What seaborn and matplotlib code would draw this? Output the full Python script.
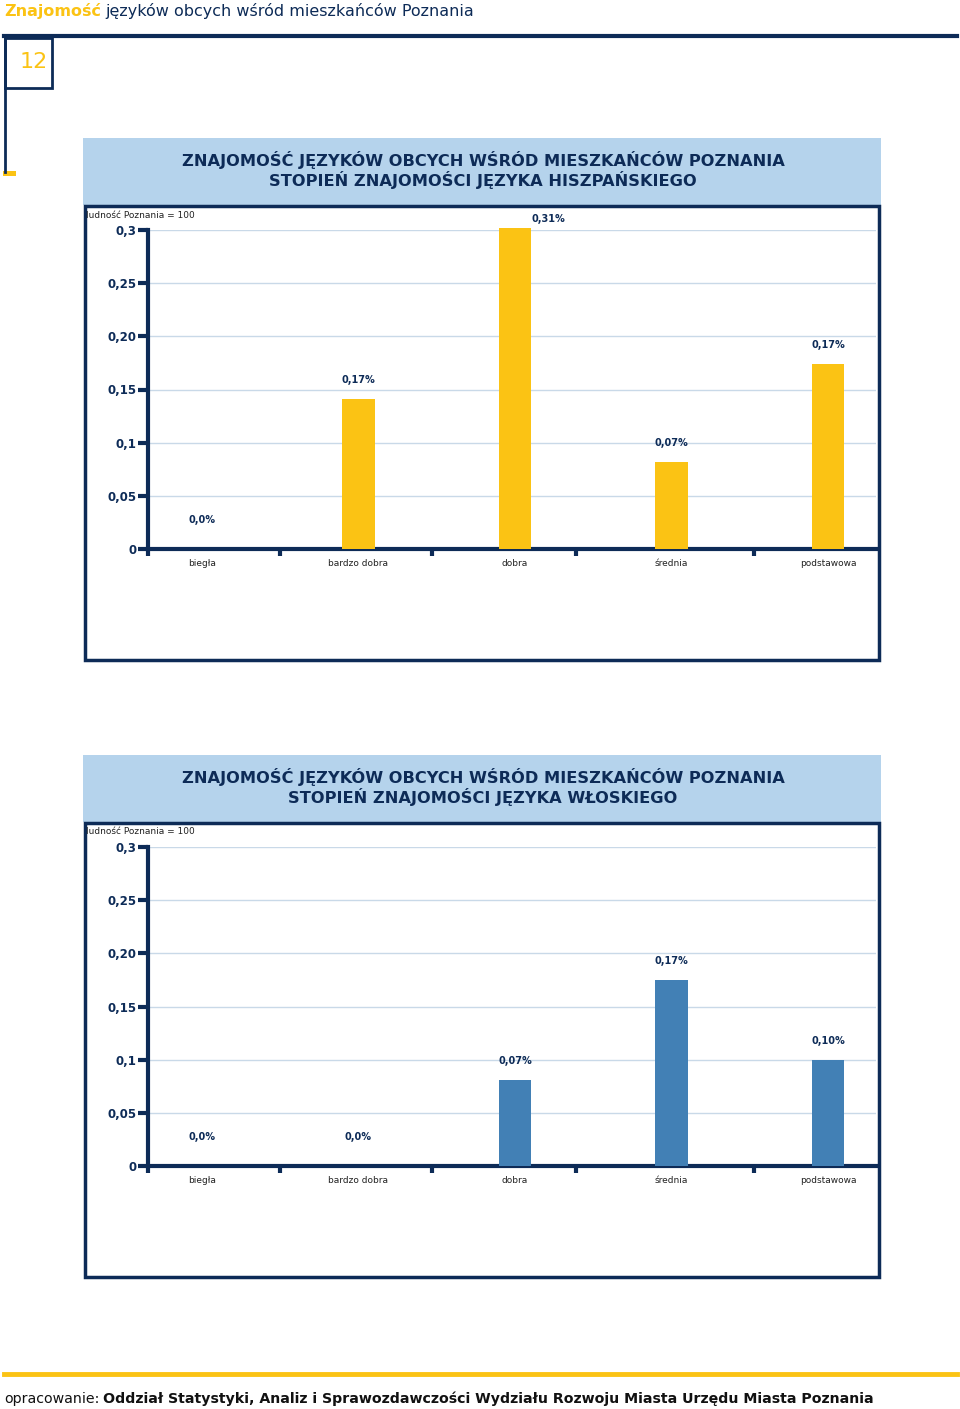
import matplotlib
matplotlib.use("Agg")
import pandas as pd
import seaborn as sns
import matplotlib.pyplot as plt
from matplotlib.patches import Rectangle
from matplotlib.lines import Line2D

kategorie = ["biegła", "bardzo dobra", "dobra", "średnia", "podstawowa"]
hiszpanski = [0.0, 0.141, 0.302, 0.082, 0.174]
hiszpanski_etykiety = ["0,0%", "0,17%", "0,31%", "0,07%", "0,17%"]
wloski = [0.0, 0.0, 0.081, 0.175, 0.100]
wloski_etykiety = ["0,0%", "0,0%", "0,07%", "0,17%", "0,10%"]
y_ticks = [0, 0.05, 0.1, 0.15, 0.20, 0.25, 0.3]
y_tick_labels = ["0", "0,05", "0,1", "0,15", "0,20", "0,25", "0,3"]

NAVY = "#0d2b57"
YELLOW = "#fbc314"
STEEL = "#4280b5"
LIGHT = "#b5d3ec"
GRID = "#c9d9e8"

W, H = 960, 1409


def fx(px):
    return px / W


def fy(py):
    return 1 - py / H


def text_pair(fig, x, y, first, second, c1, c2, w1, w2, size):
    # dwa kawalki tekstu w jednej linii (rozne kolory / grubosci)
    t = fig.text(fx(x), fy(y), first, color=c1, fontweight=w1, fontsize=size, va="center", ha="left")
    fig.canvas.draw()
    bb = t.get_window_extent()
    fig.text(bb.x1 / W + 0.004, fy(y), second, color=c2, fontweight=w2, fontsize=size, va="center", ha="left")


def panel(fig, top, tytul, wartosci, etykiety, kolor):
    # naglowek
    fig.patches.append(Rectangle((fx(83), fy(top + 67)), fx(798), 67 / H, transform=fig.transFigure,
                                 facecolor=LIGHT, edgecolor="none", zorder=0))
    fig.text(fx(483), fy(top + 32), tytul, ha="center", va="center", color=NAVY,
             fontweight="bold", fontsize=11.7, linespacing=1.08)
    # ramka
    fig.patches.append(Rectangle((fx(85), fy(top + 522)), fx(794), 454 / H, transform=fig.transFigure,
                                 facecolor="none", edgecolor=NAVY, lw=2.5, zorder=1))
    fig.text(fx(86), fy(top + 77), "ludność Poznania = 100", fontsize=6.5, color="#222222", va="center")

    zero = top + 411
    ax = fig.add_axes([fx(148), fy(zero), fx(728), 319 / H])
    df = pd.DataFrame({"kat": kategorie, "val": wartosci})
    sns.barplot(data=df, x="kat", y="val", order=kategorie, color=kolor, width=0.21,
                saturation=1, ax=ax, zorder=3)
    for p in ax.patches:
        p.set_clip_on(False)
    ax.set_xlim(-0.345, 4.307)
    ax.set_ylim(0, 0.3)
    ax.set_yticks(y_ticks)
    ax.set_yticklabels(y_tick_labels, fontweight="bold", fontsize=8.5, color=NAVY)
    ax.set_xticks(range(len(kategorie)))
    ax.set_xticklabels(kategorie, fontsize=6.5, color="#222222")
    ax.set_xticks([-0.345, 0.5, 1.47, 2.39, 3.53], minor=True)
    ax.tick_params(axis="x", which="major", length=0, pad=7)
    ax.tick_params(axis="x", which="minor", length=5, width=3, color=NAVY, direction="out")
    ax.tick_params(axis="y", length=7, width=3, color=NAVY, pad=1.5)
    ax.set_xlabel("")
    ax.set_ylabel("")
    ax.grid(axis="y", color=GRID, lw=1, zorder=0)
    ax.set_axisbelow(True)
    for s in ["top", "right"]:
        ax.spines[s].set_visible(False)
    for s in ["left", "bottom"]:
        ax.spines[s].set_color(NAVY)
        ax.spines[s].set_linewidth(3)

    for i, (v, lab) in enumerate(zip(wartosci, etykiety)):
        if v > 0.28:
            ax.text(i + 0.105, v + 0.008, lab, ha="left", va="center", fontsize=7,
                    fontweight="bold", color=NAVY, clip_on=False)
        elif v == 0:
            ax.text(i, 0.027, lab, ha="center", va="center", fontsize=7,
                    fontweight="bold", color=NAVY)
        else:
            ax.text(i, v + 0.018, lab, ha="center", va="center", fontsize=7,
                    fontweight="bold", color=NAVY)
    return ax


fig = plt.figure(figsize=(9.6, 14.09), dpi=100)
fig.patch.set_facecolor("white")

# naglowek strony
text_pair(fig, 4, 11, "Znajomość", "języków obcych wśród mieszkańców Poznania",
          YELLOW, NAVY, "bold", "normal", 11.5)
fig.lines.append(Line2D([fx(4), fx(957)], [fy(36), fy(36)], transform=fig.transFigure, color=NAVY, lw=3))
fig.lines.append(Line2D([fx(5), fx(5)], [fy(36), fy(172)], transform=fig.transFigure, color=NAVY, lw=2))
fig.patches.append(Rectangle((fx(3), fy(176)), fx(13), 5 / H, transform=fig.transFigure,
                             facecolor=YELLOW, edgecolor="none"))
fig.patches.append(Rectangle((fx(5), fy(88)), fx(47), 50 / H, transform=fig.transFigure,
                             facecolor="white", edgecolor=NAVY, lw=2))
fig.text(fx(34), fy(62), "12", color=YELLOW, fontsize=16, ha="center", va="center")

panel(fig, 138, "ZNAJOMOŚĆ JĘZYKÓW OBCYCH WŚRÓD MIESZKAŃCÓW POZNANIA\nSTOPIEŃ ZNAJOMOŚCI JĘZYKA HISZPAŃSKIEGO",
      hiszpanski, hiszpanski_etykiety, YELLOW)
panel(fig, 755, "ZNAJOMOŚĆ JĘZYKÓW OBCYCH WŚRÓD MIESZKAŃCÓW POZNANIA\nSTOPIEŃ ZNAJOMOŚCI JĘZYKA WŁOSKIEGO",
      wloski, wloski_etykiety, STEEL)

# stopka
fig.lines.append(Line2D([fx(4), fx(957)], [fy(1374), fy(1374)], transform=fig.transFigure, color=YELLOW, lw=3.5))
text_pair(fig, 4, 1399, "opracowanie:",
          "Oddział Statystyki, Analiz i Sprawozdawczości Wydziału Rozwoju Miasta Urzędu Miasta Poznania",
          "#111111", "#111111", "normal", "bold", 10.2)

plt.savefig("out.png", dpi=100)
